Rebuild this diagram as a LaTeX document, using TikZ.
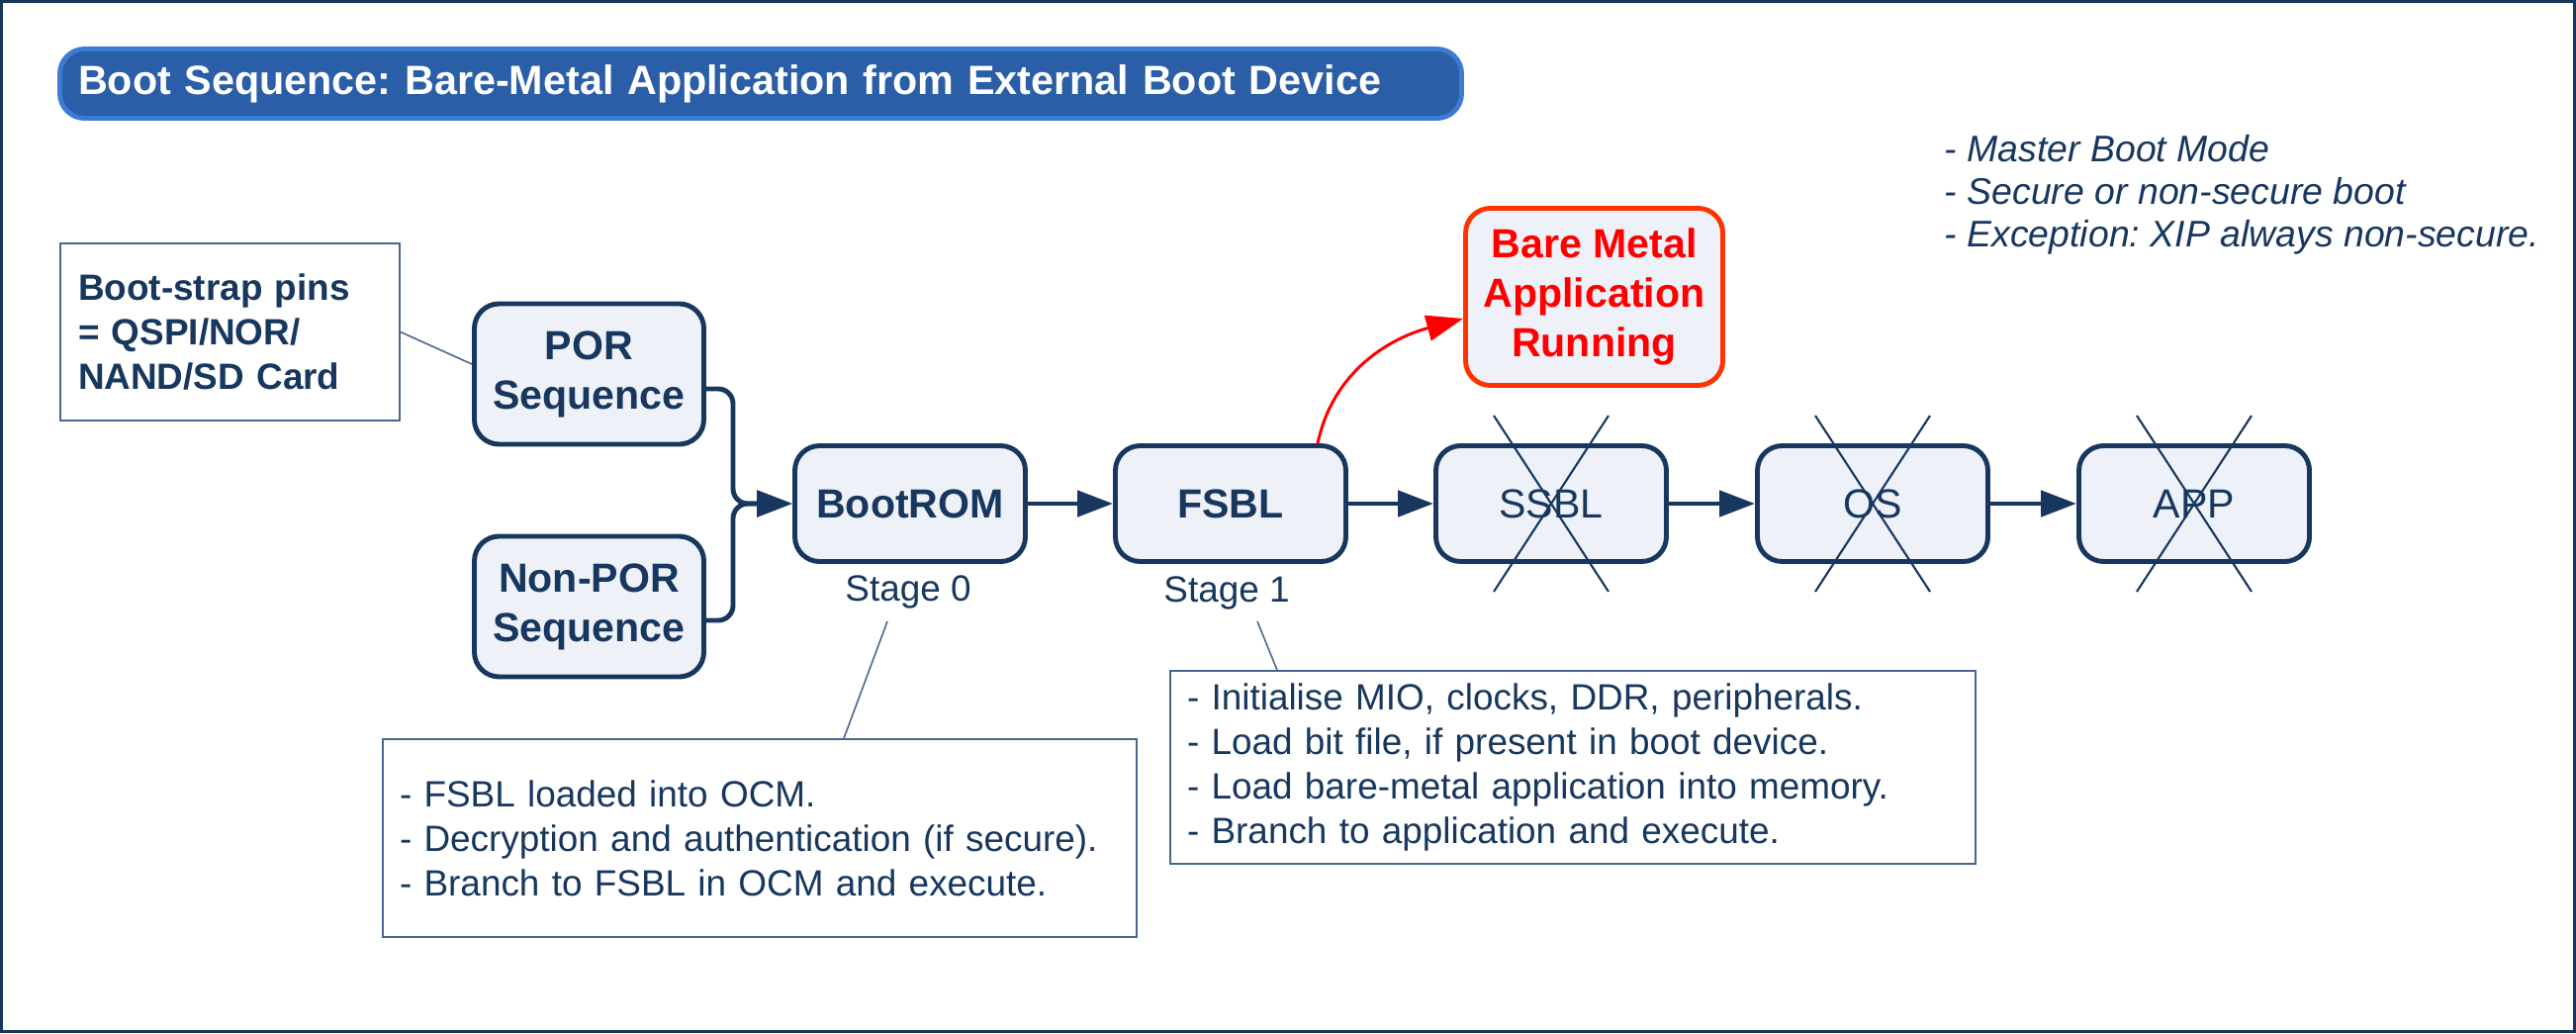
\documentclass[tikz,border=0pt]{standalone}
\usepackage{fontspec}
\setmainfont{Liberation Sans}
\usetikzlibrary{arrows.meta,positioning}
\frenchspacing

\definecolor{navy}{HTML}{17375E}
\definecolor{boxfill}{HTML}{EEF1F7}
\definecolor{titlefill}{HTML}{2A5EA6}
\definecolor{titleedge}{HTML}{3B7BD4}
\definecolor{noteedge}{HTML}{4A6690}
\definecolor{runred}{HTML}{FF0000}
\definecolor{runedge}{HTML}{FF3300}

\begin{document}
\begin{tikzpicture}[
    stagebox/.style={rectangle, draw=navy, line width=1.4pt, fill=boxfill, rounded corners=0.25cm, minimum width=2.33cm, minimum height=1.17cm, text=navy, align=center, font=\fontsize{11.7}{14.2}\selectfont\bfseries},
    seqbox/.style={stagebox, minimum width=2.32cm, minimum height=1.42cm},
    skipbox/.style={stagebox, font=\fontsize{11.7}{14.2}\selectfont},
    runbox/.style={stagebox, draw=runedge, text=runred, minimum width=2.60cm, minimum height=1.79cm},
    notebox/.style={rectangle, draw=noteedge, line width=0.45pt, fill=white, text=navy, align=left, inner xsep=0.17cm, font=\fontsize{10.5}{12.8}\selectfont},
    stagelabel/.style={text=navy, inner sep=0pt, font=\fontsize{10.5}{12.8}\selectfont},
    link/.style={draw=navy, line width=1.4pt, -{Triangle[length=0.36cm, width=0.26cm]}},
    runlink/.style={draw=runred, line width=0.85pt, -{Triangle[length=0.37cm, width=0.26cm]}},
    callout/.style={draw=noteedge, line width=0.45pt},
    cross/.style={draw=navy, line width=0.6pt}
  ]

  % Frame
  \useasboundingbox (0,0) rectangle (26.04,10.44);
  \draw[navy, line width=0.03cm] (0.015,0.015) rectangle (26.025,10.425);

  % Title and boot modes
  \node[rectangle, draw=titleedge, line width=1.4pt, fill=titlefill, rounded corners=0.25cm, minimum height=0.70cm, text width=13.80cm, inner xsep=0.185cm, align=left, text=white, font=\fontsize{11.75}{14}\selectfont\bfseries] (title) at (7.69,9.595) {Boot Sequence: Bare-Metal Application from External Boot Device};
  \node[anchor=west, align=left, inner sep=0pt, text=navy, font=\fontsize{10.65}{12.2}\selectfont\itshape] (modes) at (19.65,8.47) {- Master Boot Mode\\- Secure or non-secure boot\\- Exception: XIP always non-secure.};

  % Reset sources
  \node[notebox, text width=3.07cm, inner xsep=0.18cm, minimum height=1.79cm, font=\fontsize{10.5}{12.8}\selectfont\bfseries] (pins) at (2.325,7.085) {Boot-strap pins\\= QSPI/NOR/\\NAND/SD Card};
  \node[seqbox] (por) at (5.955,6.66) {POR\\Sequence};
  \node[seqbox] (nonpor) at (5.955,4.31) {Non-POR\\Sequence};

  % Boot stages
  \node[stagebox] (bootrom) at (9.20,5.35) {BootROM};
  \node[stagebox] (fsbl) at (12.44,5.35) {FSBL};
  \node[skipbox] (ssbl) at (15.68,5.35) {SSBL};
  \node[skipbox] (os) at (18.93,5.35) {OS};
  \node[skipbox] (app) at (22.18,5.35) {APP};
  \node[runbox] (bare) at (16.115,7.44) {Bare Metal\\Application\\Running};

  \node[stagelabel] (stage0) at (9.18,4.46) {Stage 0};
  \node[stagelabel] (stage1) at (12.40,4.45) {Stage 1};

  % Stage notes
  \node[notebox, text width=7.28cm, minimum height=2.00cm] (note0) at (7.68,1.97) {- FSBL loaded into OCM.\\- Decryption and authentication (if secure).\\- Branch to FSBL in OCM and execute.};
  \node[notebox, text width=7.80cm, minimum height=1.95cm] (note1) at (15.90,2.685) {- Initialise MIO, clocks, DDR, peripherals.\\- Load bit file, if present in boot device.\\- Load bare-metal application into memory.\\- Branch to application and execute.};

  % Connections
  \coordinate (merge) at (7.41,5.35);
  \draw[link, rounded corners=0.15cm] ([yshift=-0.15cm]por.east) -| (merge) -- (bootrom.west);
  \draw[link, rounded corners=0.15cm] ([yshift=-0.14cm]nonpor.east) -| (merge) -- (bootrom.west);
  \draw[link] (bootrom) -- (fsbl);
  \draw[link] (fsbl) -- (ssbl);
  \draw[link] (ssbl) -- (os);
  \draw[link] (os) -- (app);
  \draw[runlink] ([xshift=0.88cm]fsbl.north) to[out=78, in=195] ([yshift=-0.22cm]bare.west);

  % Callout lines
  \coordinate (tip0) at (8.97,4.16);
  \coordinate (tip1) at (12.71,4.16);
  \draw[callout] (pins.east) -- ([yshift=0.1cm]por.west);
  \draw[callout] (tip0) -- ([xshift=0.85cm]note0.north);
  \draw[callout] (tip1) -- ([xshift=-2.99cm]note1.north);

  % Stages not used
  \draw[cross] ([shift={(-0.58,0.28)}]ssbl.north) -- ([shift={(0.58,-0.28)}]ssbl.south);
  \draw[cross] ([shift={(0.58,0.28)}]ssbl.north) -- ([shift={(-0.58,-0.28)}]ssbl.south);
  \draw[cross] ([shift={(-0.58,0.28)}]os.north) -- ([shift={(0.58,-0.28)}]os.south);
  \draw[cross] ([shift={(0.58,0.28)}]os.north) -- ([shift={(-0.58,-0.28)}]os.south);
  \draw[cross] ([shift={(-0.58,0.28)}]app.north) -- ([shift={(0.58,-0.28)}]app.south);
  \draw[cross] ([shift={(0.58,0.28)}]app.north) -- ([shift={(-0.58,-0.28)}]app.south);

\end{tikzpicture}
\end{document}
